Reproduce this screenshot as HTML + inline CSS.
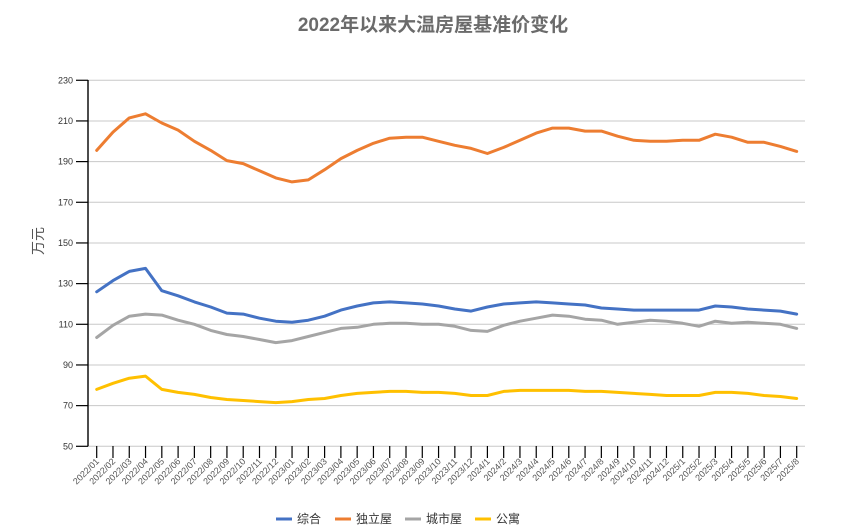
<!DOCTYPE html>
<html><head><meta charset="utf-8"><style>
html,body{margin:0;padding:0;background:#fff;}
svg{display:block;font-family:"Liberation Sans","Noto Sans CJK SC",sans-serif;}
</style></head><body>
<svg id="c" width="846" height="528" xmlns="http://www.w3.org/2000/svg">
<text x="433" y="31" text-anchor="middle" font-size="19" font-weight="bold" fill="#6b6b6b">2022年以来大温房屋基准价变化</text>
<text transform="translate(43,241) rotate(-90)" text-anchor="middle" font-size="14" fill="#555">万元</text>
<g id="g"></g>
<g font-size="12" fill="#333">
<line x1="276" y1="519" x2="292" y2="519" stroke="#4472c4" stroke-width="3"/><text x="297" y="523">综合</text>
<line x1="335" y1="519" x2="351" y2="519" stroke="#ed7d31" stroke-width="3"/><text x="356" y="523">独立屋</text>
<line x1="405" y1="519" x2="421" y2="519" stroke="#a5a5a5" stroke-width="3"/><text x="426" y="523">城市屋</text>
<line x1="475" y1="519" x2="491" y2="519" stroke="#ffc000" stroke-width="3"/><text x="496" y="523">公寓</text>
</g>
</svg>
<script>
var g=document.getElementById('g'),h='';
function Y(v){return 446.3-(v-50)*40.67/20;}
for(var v=50;v<=230;v+=20){var y=Y(v);
h+='<line x1="88" y1="'+y+'" x2="805" y2="'+y+'" stroke="#c8c8c8" stroke-width="1"/>';
h+='<line x1="76" y1="'+y+'" x2="88" y2="'+y+'" stroke="#000" stroke-width="1.2"/>';
h+='<text x="73" y="'+(y+3)+'" text-anchor="end" font-size="9" fill="#333">'+v+'</text>';}
h+='<line x1="88" y1="80" x2="88" y2="446.3" stroke="#000" stroke-width="1.4"/>';
var labs=[];for(var i=1;i<=12;i++)labs.push('2022/'+(i<10?'0':'')+i);
for(i=1;i<=12;i++)labs.push('2023/'+(i<10?'0':'')+i);
for(i=1;i<=12;i++)labs.push('2024/'+i);for(i=1;i<=8;i++)labs.push('2025/'+i);
function X(i){return 96.7+i*700/43;}
for(i=0;i<44;i++){var x=X(i);
h+='<line x1="'+x+'" y1="446" x2="'+x+'" y2="458" stroke="#000" stroke-width="1.2"/>';
h+='<text transform="translate('+(x+3)+',462) rotate(-45)" text-anchor="end" font-size="9" fill="#555">'+labs[i]+'</text>';}
var S=[['#ed7d31',[195.5,204.5,211.5,213.5,209,205.5,200,195.5,190.5,189,185.5,182,180,181,186,191.5,195.5,199,201.5,202,202,200,198,196.5,194,197,200.5,204,206.5,206.5,205,205,202.5,200.5,200,200,200.5,200.5,203.5,202,199.5,199.5,197.5,195]],
['#4472c4',[126,131.5,136,137.5,126.5,124,121,118.5,115.5,115,113,111.5,111,112,114,117,119,120.5,121,120.5,120,119,117.5,116.5,118.5,120,120.5,121,120.5,120,119.5,118,117.5,117,117,117,117,117,119,118.5,117.5,117,116.5,115]],
['#a5a5a5',[103.5,109.5,114,115,114.5,112,110,107,105,104,102.5,101,102,104,106,108,108.5,110,110.5,110.5,110,110,109,107,106.5,109.5,111.5,113,114.5,114,112.5,112,110,111,112,111.5,110.5,109,111.5,110.5,111,110.5,110,108]],
['#ffc000',[78,81,83.5,84.5,78,76.5,75.5,74,73,72.5,72,71.5,72,73,73.5,75,76,76.5,77,77,76.5,76.5,76,75,75,77,77.5,77.5,77.5,77.5,77,77,76.5,76,75.5,75,75,75,76.5,76.5,76,75,74.5,73.5]]];
S.forEach(function(s){var p=s[1].map(function(v,i){return X(i).toFixed(1)+','+Y(v).toFixed(1);}).join(' ');
h+='<polyline points="'+p+'" fill="none" stroke="'+s[0]+'" stroke-width="3" stroke-linejoin="round" stroke-linecap="round"/>';});
g.innerHTML=h;
</script>
</body></html>
